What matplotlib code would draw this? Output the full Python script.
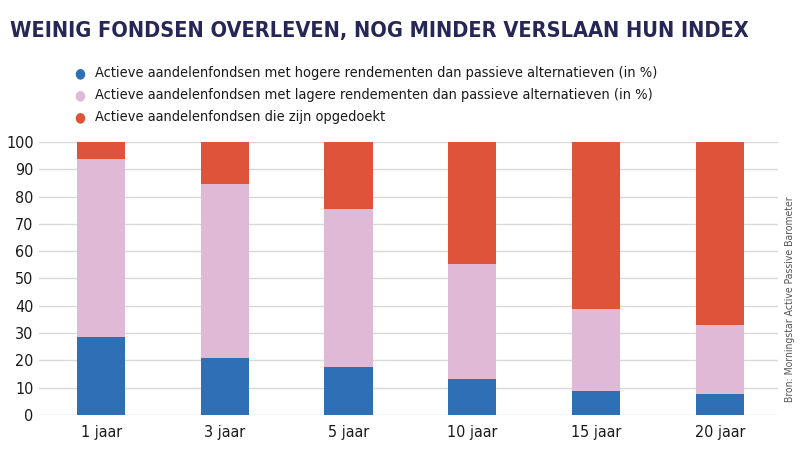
import numpy as np
import matplotlib
matplotlib.use("Agg")
from matplotlib import pyplot as plt
from matplotlib import font_manager

categories = ["1 jaar", "3 jaar", "5 jaar", "10 jaar", "15 jaar", "20 jaar"]
hoger = [28.7, 20.8, 17.5, 13.3, 8.8, 7.8]
lager = [65.0, 63.7, 58.0, 42.1, 30.0, 25.0]
opgedoekt = [6.3, 15.5, 24.5, 44.6, 61.2, 67.2]

labels = [
    "Actieve aandelenfondsen met hogere rendementen dan passieve alternatieven (in %)",
    "Actieve aandelenfondsen met lagere rendementen dan passieve alternatieven (in %)",
    "Actieve aandelenfondsen die zijn opgedoekt",
]
colors = ["#2e6fb6", "#dfb9d5", "#e0533b"]

# look for a narrow face, else fall back
narrow = None
for f in font_manager.fontManager.ttflist:
    n = f.name.lower()
    if 'narrow' in n or 'condensed' in n or f.stretch in ('condensed', 'semi-condensed', 'extra-condensed', 'ultra-condensed', 300, 400, 200, 100):
        narrow = f.name
        break
fams = ([narrow] if narrow else []) + ['Roboto', 'DejaVu Sans']
plt.rcParams['font.family'] = fams
plt.rcParams['font.stretch'] = 'condensed'

fig = plt.figure(figsize=(8, 4.53), dpi=100)
ax = fig.add_axes([0.049, 0.084, 0.9235, 0.6025])

ind = np.arange(len(categories))
width = 0.39
b1 = np.array(hoger)
b2 = b1 + np.array(lager)
ax.bar(ind, hoger, width, color=colors[0], zorder=3)
ax.bar(ind, lager, width, bottom=b1, color=colors[1], zorder=3)
ax.bar(ind, opgedoekt, width, bottom=b2, color=colors[2], zorder=3)

ax.set_ylim(0, 100)
ax.set_xlim(-0.5, len(categories) - 0.53)
ax.set_yticks(range(0, 101, 10))
ax.set_xticks(ind)
ax.set_xticklabels(categories)
ax.yaxis.grid(True, color="#d9d9d9", linewidth=1, zorder=0)
ax.tick_params(length=0, labelsize=11.5, colors="#1a1a1a")
ax.tick_params(axis='y', pad=4)
ax.tick_params(axis='x', pad=7)
for s in ax.spines.values():
    s.set_visible(False)

renderer = fig.canvas.get_renderer()

def fit(t, target):
    w = t.get_window_extent(renderer).width
    t.set_fontsize(t.get_fontsize() * target / w)

title = fig.text(0.0125, 0.932, "WEINIG FONDSEN OVERLEVEN, NOG MINDER VERSLAAN HUN INDEX",
                 fontsize=27, fontweight='bold', color="#272757", va='center', ha='left')
fit(title, 740)

for i, lab in enumerate(labels):
    y = 1 - (73 + 22 * i) / 453
    fig.text(0.1, y, "\u25CF", color=colors[i], fontsize=10, va='center', ha='center',
             family=['DejaVu Sans'])
    t = fig.text(0.119, y, lab, fontsize=12, color="#1a1a1a", va='center', ha='left')
    if i == 0:
        fit(t, 560)
        fs = min(t.get_fontsize(), 13)
    t.set_fontsize(fs)

src = fig.text(0.988, 0.34, "Bron: Morningstar Active Passive Barometer", rotation=90,
               fontsize=7.5, color="#555555", va='center', ha='center')

fig.savefig("out.png", dpi=100)
